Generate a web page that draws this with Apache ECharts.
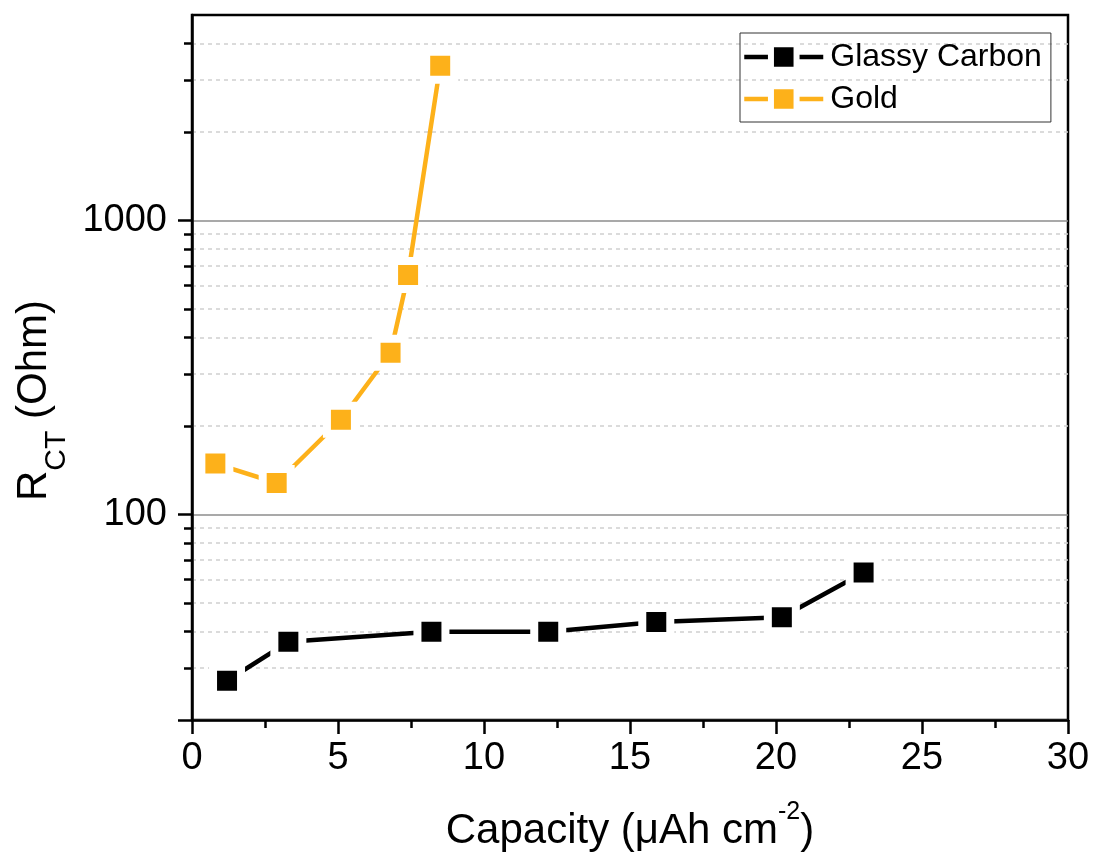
<!DOCTYPE html>
<html>
<head>
<meta charset="utf-8">
<script src="https://cdn.jsdelivr.net/npm/echarts@6/dist/echarts.min.js"></script>
<style>
  html, body { margin: 0; padding: 0; background: #fff; }
  #chart { width: 1095px; height: 861px; }
</style>
</head>
<body>
<div id="chart"></div>
<script>
// ---- data ----
const seriesNames = ['Glassy Carbon', 'Gold'];
const capGlassy = [1.2, 3.3, 8.2, 12.2, 15.9, 20.2, 23.0];
const rctGlassy = [27.2, 36.9, 39.9, 39.9, 43.1, 44.7, 63.5];
const capGold = [0.8, 2.9, 5.1, 6.8, 7.4, 8.5];
const rctGold = [149, 128, 210, 355, 653, 3360];
const yTickLabels = [100, 1000];
const yMajorTicks = [20, 100, 1000];
const yMinorTicks = [30, 40, 50, 60, 70, 80, 90, 200, 300, 400, 500, 600, 700, 800, 900, 2000, 3000, 4000];
const xTicks = [0, 5, 10, 15, 20, 25, 30];

const FONT = '"Liberation Sans", Arial, Helvetica, sans-serif';
const GOLD = '#FDB11A';
const BLACK = '#000000';

function pairs(xs, ys) { return xs.map((x, i) => [x, ys[i]]); }

const chart = echarts.init(document.getElementById('chart'), null, { renderer: 'canvas' });

const option = {
  animation: false,
  backgroundColor: '#ffffff',
  textStyle: { fontFamily: FONT },
  grid: {
    left: 192, right: 27, top: 15, bottom: 141,
    show: true, borderColor: '#000', borderWidth: 2.5, backgroundColor: 'transparent'
  },
  legend: {
    orient: 'vertical',
    left: 740, top: 33,
    padding: [8, 9, 7, 2],
    itemWidth: 79, itemHeight: 32, itemGap: 10,
    borderColor: '#333', borderWidth: 1,
    selectedMode: false,
    textStyle: { fontSize: 32, color: '#000', fontFamily: FONT, padding: [0, 0, 0, 2] },
    itemStyle: { borderWidth: 6, borderColor: '#fff' },
    lineStyle: { width: 4.5 },
    data: seriesNames
  },
  xAxis: {
    type: 'value', min: xTicks[0], max: xTicks[xTicks.length - 1], interval: 5,
    axisLine: { show: true, onZero: false, lineStyle: { color: '#000', width: 2.5 } },
    axisTick: { show: true, inside: false, length: 14, lineStyle: { color: '#000', width: 2.5 } },
    minorTick: { show: true, splitNumber: 2, length: 8, lineStyle: { color: '#000', width: 2.5 } },
    splitLine: { show: false },
    axisLabel: { fontSize: 38, color: '#000', margin: 20, fontFamily: FONT },
    name: '{m|Capacity (\u03bcAh cm}{p|-2}{m|)}',
    nameLocation: 'middle',
    nameGap: 80,
    nameTextStyle: {
      rich: {
        m: { fontSize: 42, lineHeight: 42, color: '#000', fontFamily: FONT, verticalAlign: 'top', padding: [10, 0, 0, 0] },
        p: { fontSize: 25, lineHeight: 25, color: '#000', fontFamily: FONT, verticalAlign: 'top' }
      }
    }
  },
  yAxis: [
    {
      type: 'log', logBase: 10, min: 20, max: 5000,
      position: 'left',
      axisLine: { show: true, lineStyle: { color: '#000', width: 2.5 } },
      axisTick: { show: true, inside: false, length: 14, lineStyle: { color: '#000', width: 2.5 }, customValues: yMajorTicks },
      axisLabel: {
        customValues: yTickLabels, fontSize: 38, color: '#000', margin: 25, fontFamily: FONT,
        formatter: function (v) { return String(Math.round(v)); }
      },
      splitLine: { show: true, lineStyle: { color: '#8c8c8c', width: 1.5, type: 'solid' } },
      name: '{r|R}{s|CT}{r| (Ohm)}',
      nameLocation: 'middle',
      nameRotate: 90,
      nameGap: 125,
      nameTextStyle: {
        padding: [0, 66, 0, 0],
        rich: {
          r: { fontSize: 42, lineHeight: 42, color: '#000', fontFamily: FONT, verticalAlign: 'top' },
          s: { fontSize: 30, lineHeight: 30, color: '#000', fontFamily: FONT, verticalAlign: 'top', padding: [28, 0, 0, 0] }
        }
      }
    },
    {
      type: 'log', logBase: 10, min: 20, max: 5000,
      position: 'left', offset: 0,
      axisLine: { show: false },
      axisTick: { show: true, inside: false, length: 8, lineStyle: { color: '#000', width: 2.5 }, customValues: yMinorTicks },
      axisLabel: { show: false },
      splitLine: { show: true, lineStyle: { color: '#cfcfcf', width: 1.5, type: [4, 4] } }
    }
  ],
  series: [
    {
      name: seriesNames[0],
      type: 'line',
      yAxisIndex: 0,
      data: pairs(capGlassy, rctGlassy),
      symbol: 'rect', symbolSize: 28,
      itemStyle: { color: BLACK, borderColor: '#fff', borderWidth: 8 },
      lineStyle: { color: BLACK, width: 4.5 },
      emphasis: { disabled: true },
      z: 3
    },
    {
      name: seriesNames[1],
      type: 'line',
      yAxisIndex: 0,
      data: pairs(capGold, rctGold),
      symbol: 'rect', symbolSize: 28,
      itemStyle: { color: GOLD, borderColor: '#fff', borderWidth: 8 },
      lineStyle: { color: GOLD, width: 4.5 },
      emphasis: { disabled: true },
      z: 3
    }
  ]
};

chart.setOption(option);
</script>
</body>
</html>
